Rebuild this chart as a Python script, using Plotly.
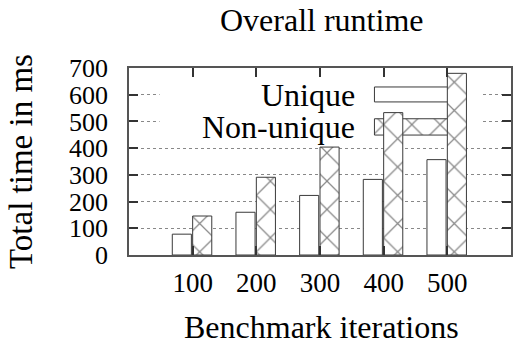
import plotly.graph_objects as go

# ---- data ----
categories = ["100", "200", "300", "400", "500"]
unique_ms = [78, 160, 223, 283, 357]
nonunique_ms = [146, 291, 404, 533, 680]
series_names = ["Unique", "Non-unique"]
y_ticks = [0, 100, 200, 300, 400, 500, 600, 700]

FONT = "Liberation Serif, Times New Roman, serif"
EDGE = "#3a3a3a"
pos = list(range(len(categories)))
hatch = dict(shape="x", size=20, solidity=0.12, fgcolor="#111111", bgcolor="white")

fig = go.Figure()

# legend key boxes (drawn first so data bars sit above them, as in gnuplot)
key_x, key_w = 3.45, 1.19
key_rows = [(573, 56), (449, 61)]
fig.add_trace(go.Bar(x=[key_x], y=[key_rows[0][1]], base=[key_rows[0][0]], width=key_w,
                     marker=dict(color="white", line=dict(color=EDGE, width=1)),
                     showlegend=False, hoverinfo="skip"))
fig.add_trace(go.Bar(x=[key_x], y=[key_rows[1][1]], base=[key_rows[1][0]], width=key_w,
                     marker=dict(color="white", line=dict(color=EDGE, width=1), pattern=hatch),
                     showlegend=False, hoverinfo="skip"))

fig.add_trace(go.Bar(x=pos, y=unique_ms, name=series_names[0], width=0.30, offset=-0.32,
                     marker=dict(color="white", line=dict(color=EDGE, width=1)),
                     showlegend=False))
fig.add_trace(go.Bar(x=pos, y=nonunique_ms, name=series_names[1], width=0.30, offset=0.0,
                     marker=dict(color="white", line=dict(color=EDGE, width=1), pattern=hatch),
                     showlegend=False))

# white key background that hides the grid behind the key
fig.add_shape(type="rect", x0=-0.52, x1=4.53, y0=435, y1=660, layer="between",
              fillcolor="white", line=dict(width=0))

TXT = dict(family=FONT, size=32, color="black")
fig.add_annotation(x=2.58, y=600, text=series_names[0], showarrow=False, xanchor="right",
                   yanchor="middle", font=TXT)
fig.add_annotation(x=2.58, y=480, text=series_names[1], showarrow=False, xanchor="right",
                   yanchor="middle", font=TXT)

# titles
fig.add_annotation(x=0.503, y=1.364, xref="paper", yref="paper", text="Overall runtime",
                   showarrow=False, xanchor="center", yanchor="top", font=TXT)
fig.add_annotation(x=0.503, y=-0.492, xref="paper", yref="paper", text="Benchmark iterations",
                   showarrow=False, xanchor="center", yanchor="bottom", font=TXT)
fig.add_annotation(x=-0.284, y=0.5, xref="paper", yref="paper", text="Total time in ms",
                   showarrow=False, xanchor="center", yanchor="middle", textangle=-90,
                   font=dict(family=FONT, size=33, color="black"))

fig.update_layout(
    width=514, height=347,
    margin=dict(l=129, r=1, t=68, b=92),
    plot_bgcolor="white", paper_bgcolor="white",
    barmode="overlay",
    font=dict(family=FONT, color="black"),
)
fig.update_xaxes(
    range=[-1, 5], tickmode="array", tickvals=pos, ticktext=categories,
    ticks="inside", ticklen=9, tickcolor="#333333", tickwidth=1.5,
    showline=True, linecolor="#555555", linewidth=1.5, mirror="ticks",
    showgrid=False, zeroline=False,
    tickfont=dict(family=FONT, size=27, color="black"),
    ticklabelstandoff=3,
)
fig.update_yaxes(
    range=[0, 700], tickmode="array", tickvals=y_ticks,
    ticks="inside", ticklen=9, tickcolor="#333333", tickwidth=1.5,
    showline=True, linecolor="#555555", linewidth=1.5, mirror="ticks",
    showgrid=True, gridcolor="#888888", griddash="dot", gridwidth=1,
    zeroline=False,
    tickfont=dict(family=FONT, size=26, color="black"),
    ticklabelstandoff=14,
)

fig.write_html(
    "out.html",
    config={"displayModeBar": False},
    post_script="document.body.style.margin='0px';document.body.style.overflow='hidden';",
)
